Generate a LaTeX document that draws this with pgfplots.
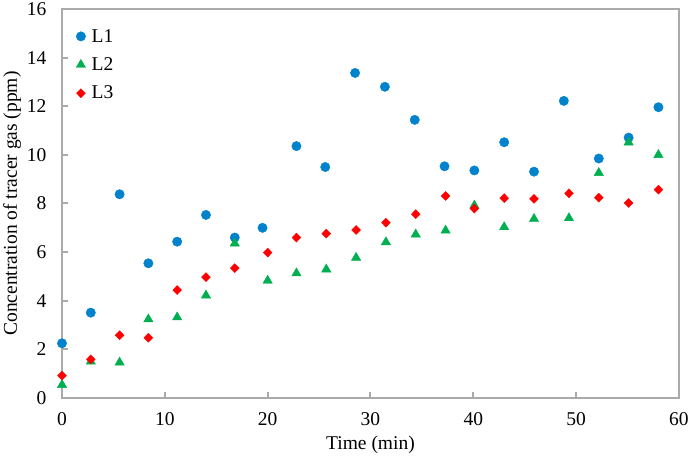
\documentclass[border=0pt]{standalone}
\usepackage{fontspec}
\setmainfont{Liberation Serif}
\usepackage{pgfplots}
\pgfplotsset{compat=1.18}
\definecolor{cblue}{RGB}{0,130,205}
\definecolor{cgreen}{RGB}{0,176,80}
\definecolor{cred}{RGB}{255,0,0}
\definecolor{axgray}{RGB}{170,170,170}
\begin{document}
\begin{tikzpicture}[font=\fontsize{19.5}{23}\selectfont]
\begin{axis}[
  at={(0,0)}, anchor=south west,
  scale only axis,
  width=617pt, height=389pt,
  xmin=0, xmax=60, ymin=0, ymax=16,
  xtick={0,10,...,60}, ytick={0,2,...,16},
  /pgf/number format/assume math mode=true,
  axis line style={draw=axgray, line width=2pt},
  major tick style={draw=axgray, line width=2pt},
  tick align=inside, major tick length=6pt,
  xtick pos=left, ytick pos=left,
  xticklabel style={yshift=-10.5pt},
  yticklabel style={xshift=-12pt},
  xlabel={Time (min)},
  ylabel={Concentration of tracer gas (ppm)},
  xlabel style={at={(axis description cs:0.5,0)}, anchor=center, yshift=-47pt},
  ylabel style={at={(axis description cs:0,0.5)}, anchor=center, yshift=50pt},
  legend style={draw=none, fill=none, at={(axis description cs:0,1)}, anchor=north west, xshift=11pt, yshift=-16pt, row sep=10pt, column sep=4pt},
  legend cell align=left,
]
\addplot[only marks, mark=*, mark size=4.7pt, color=cblue, mark options={draw=cblue, fill=cblue}] coordinates {
(0,2.25) (2.8,3.51) (5.6,8.38) (8.4,5.54) (11.2,6.43) (14.0,7.53) (16.8,6.60)
(19.5,7.00) (22.8,10.36) (25.6,9.50) (28.5,13.37) (31.4,12.80) (34.3,11.44)
(37.2,9.53) (40.1,9.36) (43.0,10.52) (45.9,9.31) (48.8,12.22) (52.2,9.85)
(55.1,10.71) (58.0,11.96)
};
\addlegendentry{L1}
\addplot[only marks, mark=triangle*, mark size=5.4pt, color=cgreen, mark options={draw=cgreen, fill=cgreen}] coordinates {
(0,0.54) (2.8,1.50) (5.6,1.46) (8.4,3.24) (11.2,3.32) (14.0,4.22) (16.8,6.36)
(20.0,4.83) (22.8,5.13) (25.7,5.29) (28.6,5.77) (31.5,6.41) (34.4,6.73)
(37.3,6.89) (40.1,7.92) (43.0,7.03) (45.9,7.37) (49.3,7.40) (52.2,9.26)
(55.1,10.51) (58.0,10.00)
};
\addlegendentry{L2}
\addplot[only marks, mark=diamond*, mark size=4.5pt, color=cred, mark options={draw=cred, fill=cred, xscale=1.3}] coordinates {
(0,0.92) (2.8,1.59) (5.6,2.58) (8.4,2.48) (11.2,4.44) (14.0,4.97) (16.8,5.34)
(20.0,5.98) (22.8,6.60) (25.7,6.76) (28.6,6.91) (31.5,7.21) (34.4,7.56)
(37.3,8.31) (40.1,7.79) (43.0,8.22) (45.9,8.19) (49.3,8.42) (52.2,8.24)
(55.1,8.02) (58.0,8.57)
};
\addlegendentry{L3}
\end{axis}
\pgfresetboundingbox
\path[use as bounding box] (-62pt,-65pt) rectangle (626pt,398pt);
\end{tikzpicture}
\end{document}
